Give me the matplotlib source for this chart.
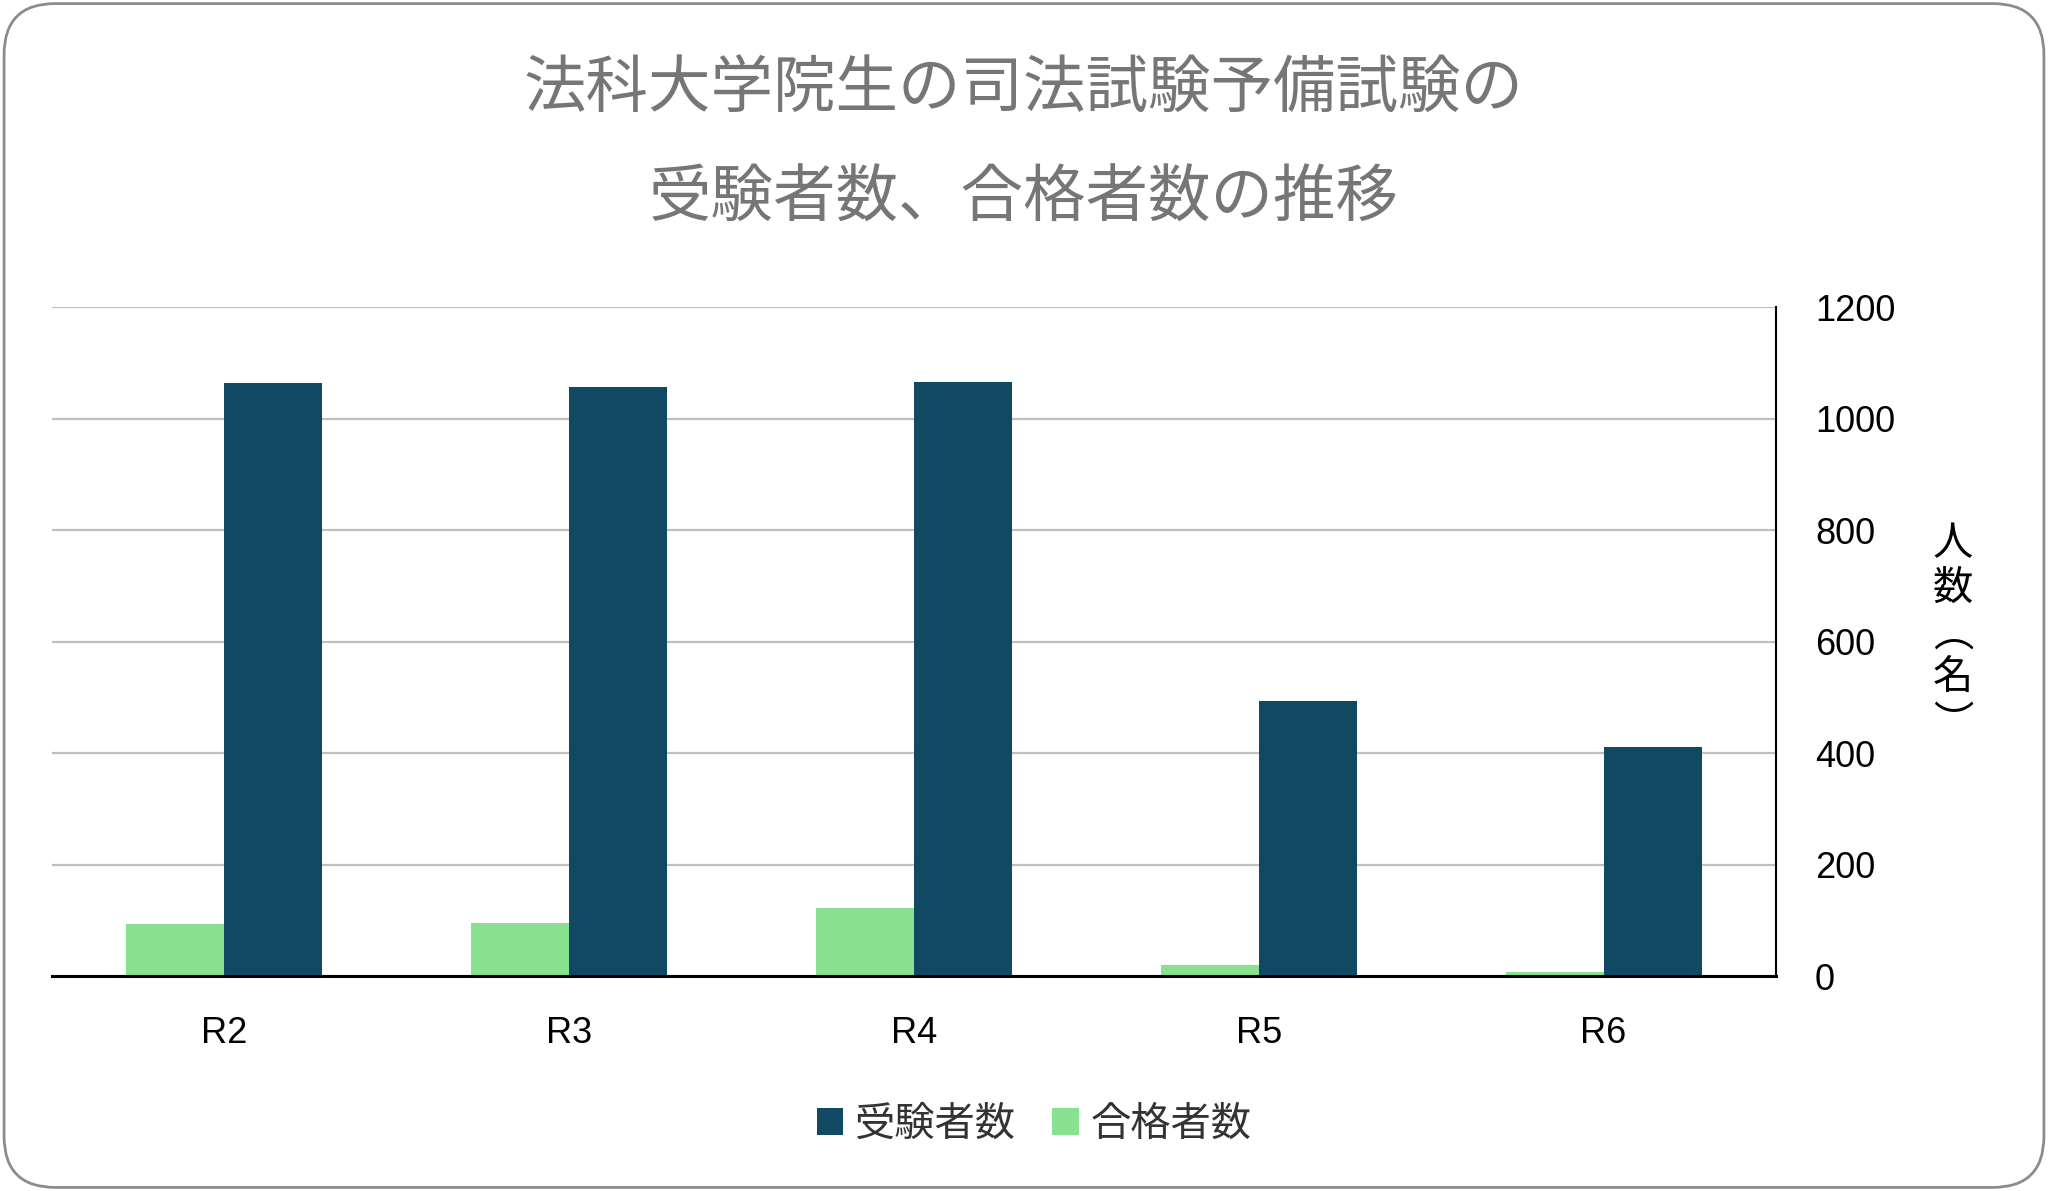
import matplotlib
matplotlib.use("Agg")
import matplotlib.pyplot as plt
from matplotlib.patches import FancyBboxPatch
import numpy as np

plt.rcParams['font.family'] = ['Noto Sans CJK JP', 'DejaVu Sans']

# data
years = ['R2', 'R3', 'R4', 'R5', 'R6']
examinees = [1064, 1057, 1066, 494, 411]   # 受験者数
passers = [94, 96, 122, 19, 7]             # 合格者数

blue = '#114862'
green = '#88E290'

fig = plt.figure(figsize=(20.48, 11.91), dpi=100)
ax = fig.add_axes([0.0254, 0.1805, 0.8418, 0.5615])

x = np.arange(len(years))
w = 0.284
b1 = ax.bar(x + w/2, examinees, width=w, color=blue, label='受験者数', zorder=3)
b2 = ax.bar(x - w/2, passers, width=w, color=green, label='合格者数', zorder=3)

ax.set_xlim(-0.5, len(years) - 0.5)
ax.set_ylim(0, 1200)
ax.set_yticks(np.arange(0, 1201, 200))
ax.yaxis.tick_right()
ax.set_xticks(x)
ax.set_xticklabels(years)
ax.tick_params(axis='y', length=0, pad=28, labelsize=26)
ax.tick_params(axis='x', length=0, pad=29, labelsize=26)
for lab in ax.get_xticklabels() + ax.get_yticklabels():
    lab.set_family(['Liberation Sans', 'DejaVu Sans'])

ax.grid(axis='y', color='#BFBFBF', lw=1.6, zorder=0)
for s in ['top', 'left']:
    ax.spines[s].set_visible(False)
ax.spines['bottom'].set_linewidth(2.2)
ax.spines['bottom'].set_color('black')
ax.spines['bottom'].set_zorder(4)
ax.spines['right'].set_linewidth(1.5)
ax.spines['right'].set_color('black')

# vertical axis label
fig.text(0.9535, 0.468, '人\n数\n︵\n名\n︶', fontsize=29, ha='center', va='center',
         linespacing=1.12, color='black')

# title
fig.text(0.5, 0.925, '法科大学院生の司法試験予備試験の', fontsize=45, color='#767676',
         ha='center', va='center')
fig.text(0.5, 0.833, '受験者数、合格者数の推移', fontsize=45, color='#767676',
         ha='center', va='center')

fig.legend(handles=[b1, b2], loc='center', bbox_to_anchor=(0.505, 0.056), ncol=2,
           frameon=False, fontsize=29, handlelength=0.65, handleheight=0.65,
           handletextpad=0.3, columnspacing=0.9, labelcolor='#333333')

# rounded border
border = FancyBboxPatch((0.002, 0.003), 0.996, 0.994, boxstyle='round,pad=0,rounding_size=0.025',
                        transform=fig.transFigure, fill=False, edgecolor='#8C8C8C', lw=2,
                        mutation_aspect=2048/1191)
fig.patches.append(border)

fig.savefig('out.png', dpi=100)
